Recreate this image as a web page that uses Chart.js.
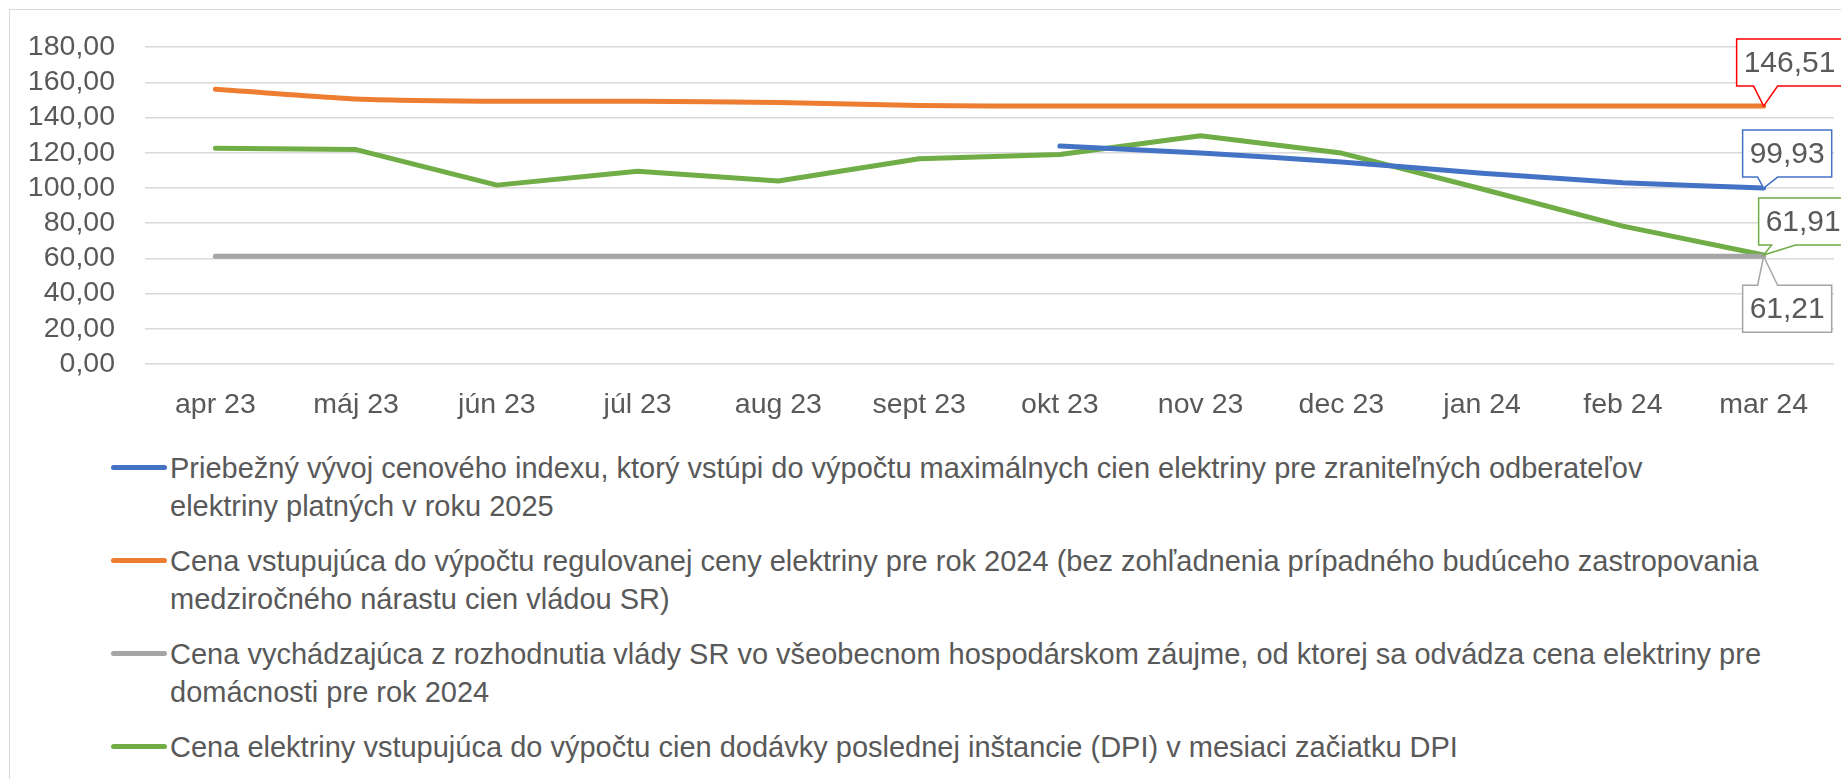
<!DOCTYPE html>
<html>
<head>
<meta charset="utf-8">
<script src="https://cdn.jsdelivr.net/npm/chart.js@4.4.0/dist/chart.umd.min.js"></script>
<style>
  html, body { margin: 0; padding: 0; background: #fff; }
  #wrap { position: relative; width: 1841px; height: 779px; overflow: hidden;
          font-family: "Liberation Sans", Arial, sans-serif; color: #595959; }
  #frame { position: absolute; left: 9px; top: 9px; width: 1900px; height: 900px;
           border: 1px solid #d9d9d9; box-sizing: border-box; }
  #chart { position: absolute; left: 0; top: 0; }
  #legend { position: absolute; left: 111px; top: 449px; }
  .item { display: flex; align-items: flex-start; margin-bottom: 17px; }
  .swatch { width: 56px; height: 5px; border-radius: 3px; margin-top: 16px; flex: none; }
  .text { white-space: nowrap; font-size: 29px; line-height: 38px; padding-left: 3px; }
</style>
</head>
<body>
<div id="wrap">
  <div id="frame"></div>
  <canvas id="chart" width="1841" height="425"></canvas>
  <div id="legend"></div>
</div>
<script>
// categories (months)
const months = ['apr 23', 'máj 23', 'jún 23', 'júl 23', 'aug 23', 'sept 23',
                'okt 23', 'nov 23', 'dec 23', 'jan 24', 'feb 24', 'mar 24'];

// series values (EUR/MWh)
const indexValues = [null, null, null, null, null, null,
                     123.8, 119.9, 114.7, 108.4, 103.0, 99.93];
const regulatedValues = [156.1, 150.5, 149.2, 149.2, 148.6, 146.8,
                         146.51, 146.51, 146.51, 146.51, 146.51, 146.51];
const governmentValues = [61.21, 61.21, 61.21, 61.21, 61.21, 61.21,
                          61.21, 61.21, 61.21, 61.21, 61.21, 61.21];
const dpiValues = [122.5, 121.8, 101.6, 109.5, 103.9, 116.6,
                   119.0, 129.6, 119.8, 99.4, 78.3, 61.91];

// series names, split into the lines shown in the legend
const seriesNames = [
  ['Priebežný vývoj cenového indexu, ktorý vstúpi do výpočtu maximálnych cien elektriny pre zraniteľných odberateľov',
   'elektriny platných v roku 2025'],
  ['Cena vstupujúca do výpočtu regulovanej ceny elektriny pre rok 2024 (bez zohľadnenia prípadného budúceho zastropovania',
   'medziročného nárastu cien vládou SR)'],
  ['Cena vychádzajúca z rozhodnutia vlády SR vo všeobecnom hospodárskom záujme, od ktorej sa odvádza cena elektriny pre',
   'domácnosti pre rok  2024'],
  ['Cena elektriny vstupujúca do výpočtu cien dodávky poslednej inštancie (DPI) v mesiaci začiatku DPI']
];
const seriesColors = ['#4472c4', '#ed7d31', '#a5a5a5', '#70ad47'];

// y axis ticks
const yMin = 0, yMax = 180, yStep = 20;

const fmt = v => v.toFixed(2).replace('.', ',');

// callout style for the last point of each series: box offset from point, pointer feet, border colour
const callouts = [
  { dx: -21, dy: -58, pointer: [-6, 14], border: '#4472c4' },
  { dx: -27, dy: -67, pointer: [-10, 14], border: '#ff0000' },
  { dx: -21, dy: 29, pointer: [-6, 14], border: '#a5a5a5' },
  { dx: -5, dy: -57, pointer: [8, 32], border: '#70ad47' }
];

const calloutPlugin = {
  id: 'callouts',
  afterDatasetsDraw(chart) {
    const ctx = chart.ctx;
    ctx.save();
    ctx.font = '30px "Liberation Sans", Arial, sans-serif';
    chart.data.datasets.forEach((ds, i) => {
      const meta = chart.getDatasetMeta(i);
      const last = ds.data.length - 1;
      const pt = meta.data[last];
      const c = callouts[i];
      const txt = fmt(ds.data[last]);
      const w = ctx.measureText(txt).width + 14;
      const h = 47;
      const bx = pt.x + c.dx, by = pt.y + c.dy;
      const below = c.dy > 0;
      const edgeY = below ? by : by + h;
      ctx.beginPath();
      ctx.moveTo(bx, by);
      if (below) {
        ctx.lineTo(pt.x + c.pointer[0], by);
        ctx.lineTo(pt.x, pt.y);
        ctx.lineTo(pt.x + c.pointer[1], by);
        ctx.lineTo(bx + w, by);
        ctx.lineTo(bx + w, by + h);
        ctx.lineTo(bx, by + h);
      } else {
        ctx.lineTo(bx + w, by);
        ctx.lineTo(bx + w, edgeY);
        ctx.lineTo(pt.x + c.pointer[1], edgeY);
        ctx.lineTo(pt.x, pt.y);
        ctx.lineTo(pt.x + c.pointer[0], edgeY);
        ctx.lineTo(bx, edgeY);
      }
      ctx.closePath();
      ctx.fillStyle = '#fff';
      ctx.fill();
      ctx.lineWidth = 1.5;
      ctx.strokeStyle = c.border;
      ctx.stroke();
      ctx.fillStyle = '#595959';
      ctx.textAlign = 'center';
      ctx.textBaseline = 'middle';
      ctx.fillText(txt, bx + w / 2, by + h / 2 + 1);
    });
    ctx.restore();
  }
};

const htmlLegend = {
  id: 'htmlLegend',
  afterUpdate(chart) {
    const box = document.getElementById('legend');
    box.innerHTML = '';
    chart.options.plugins.legend.labels.generateLabels(chart).forEach(item => {
      const row = document.createElement('div');
      row.className = 'item';
      const sw = document.createElement('div');
      sw.className = 'swatch';
      sw.style.background = item.strokeStyle;
      const t = document.createElement('div');
      t.className = 'text';
      [].concat(item.text).forEach(line => {
        const l = document.createElement('div');
        l.textContent = line;
        t.appendChild(l);
      });
      row.appendChild(sw);
      row.appendChild(t);
      box.appendChild(row);
    });
  }
};

const datasets = [indexValues, regulatedValues, governmentValues, dpiValues].map((vals, i) => ({
  label: seriesNames[i],
  data: vals,
  borderColor: seriesColors[i],
  backgroundColor: seriesColors[i],
  borderWidth: 5,
  pointRadius: 0,
  tension: i === 3 ? 0 : 0.15,
  borderCapStyle: 'round',
  borderJoinStyle: 'round',
  spanGaps: false
}));

new Chart(document.getElementById('chart'), {
  type: 'line',
  data: { labels: months, datasets },
  plugins: [calloutPlugin, htmlLegend],
  options: {
    responsive: false,
    animation: false,
    devicePixelRatio: 1,
    layout: { padding: { top: 34, right: 7, left: 0, bottom: 0 } },
    plugins: {
      legend: { display: false },
      tooltip: { enabled: false }
    },
    scales: {
      x: {
        offset: true,
        grid: { display: false },
        border: { display: false },
        ticks: {
          color: '#595959',
          font: { family: '"Liberation Sans", Arial, sans-serif', size: 28.5 },
          padding: 16,
          maxRotation: 0,
          autoSkip: false
        },
        afterFit(scale) { scale.height = 61; }
      },
      y: {
        min: yMin,
        max: yMax,
        grid: { color: '#d9d9d9', lineWidth: 1.5, drawTicks: false },
        border: { display: false },
        ticks: {
          stepSize: yStep,
          autoSkip: false,
          color: '#595959',
          padding: 30,
          font: { family: '"Liberation Sans", Arial, sans-serif', size: 28.5 },
          callback: v => fmt(v)
        },
        afterFit(scale) { scale.width = 145; }
      }
    }
  }
});
</script>
</body>
</html>
